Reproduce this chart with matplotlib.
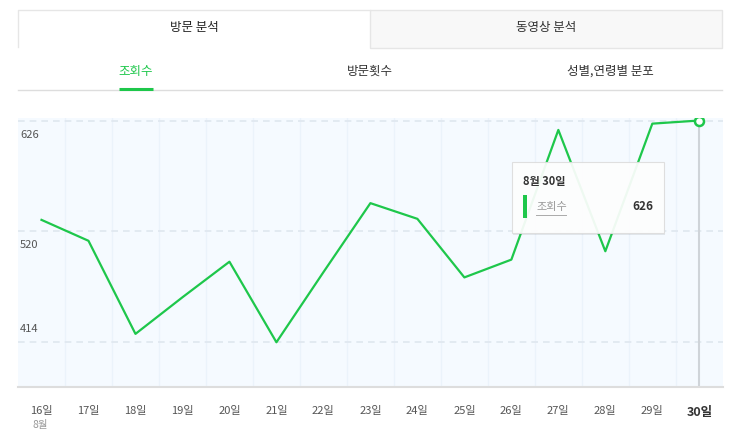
import matplotlib.pyplot as plt
from matplotlib.patches import Rectangle
from matplotlib.transforms import offset_copy

plt.rcParams['font.family'] = ['Noto Sans CJK KR', 'DejaVu Sans']

days = ['16일', '17일', '18일', '19일', '20일', '21일', '22일', '23일',
        '24일', '25일', '26일', '27일', '28일', '29일', '30일']
views = [531, 511, 422, 457, 491, 414, 481, 547, 532, 476, 493, 617, 501, 623, 626]
y_ticks = [414, 520, 626]
tabs = ['방문 분석', '동영상 분석']
sub_tabs = ['조회수', '방문횟수', '성별,연령별 분포']

green = '#1ec74b'
W, H = 743, 434
fig = plt.figure(figsize=(W / 100, H / 100), dpi=100)

# page layer in pixel coords
bg = fig.add_axes([0, 0, 1, 1])
bg.set_xlim(0, W)
bg.set_ylim(H, 0)
bg.axis('off')

# top tabs
bg.add_patch(Rectangle((370, 10), 352, 37.5, facecolor='#f8f8f8', edgecolor='#e6e6e6', lw=1))
bg.plot([18, 18, 370], [47, 10, 10], color='#e6e6e6', lw=1)
bg.text(194, 28, tabs[0], ha='center', va='center', fontsize=9, color='#222222')
bg.text(546, 28, tabs[1], ha='center', va='center', fontsize=9, color='#333333')

# sub tabs
bg.plot([18, 722], [89.5, 89.5], color='#dddddd', lw=1)
bg.plot([119, 153], [89, 89], color=green, lw=2.2, solid_capstyle='butt')
bg.text(136, 71, sub_tabs[0], ha='center', va='center', fontsize=9, color=green)
bg.text(370, 71, sub_tabs[1], ha='center', va='center', fontsize=9, color='#333333')
bg.text(610, 71, sub_tabs[2], ha='center', va='center', fontsize=9, color='#333333')

# chart
ax = fig.add_axes([18 / W, (H - 386.5) / H, 704.8 / W, 268.5 / H])
ax.set_facecolor('#f5faff')
x = list(range(len(days)))
ax.set_xlim(-0.5, len(days) - 0.5)
ax.set_ylim(371.7, 628.4)
for i in range(len(days) - 1):
    ax.axvline(i + 0.5, color='#ebf3fb', lw=1, zorder=1)
for v in y_ticks:
    ax.axhline(v, color='#dfe7ef', lw=1.2, ls=(0, (4, 3)), zorder=1)
ax.plot([x[-1], x[-1]], [371.7, views[-1]], color='#cfd4d9', lw=1.5, zorder=2)
ax.plot(x, views, color=green, lw=1.6, zorder=3)
ax.plot(x[-1], views[-1], 'o', ms=6.5, mfc='white', mec=green, mew=1.8, zorder=4)
for s in ['top', 'left', 'right']:
    ax.spines[s].set_visible(False)
ax.spines['bottom'].set_color('#dddddd')
ax.spines['bottom'].set_linewidth(1.5)
ax.set_yticks([])
ax.set_xticks(x)
ax.set_xticklabels(days, fontsize=8, color='#555555')
ax.tick_params(axis='x', length=0, pad=14)
ax.get_xticklabels()[-1].set_fontweight('bold')
ax.get_xticklabels()[-1].set_color('#333333')
ax.get_xticklabels()[-1].set_fontsize(9)

for v, dy in zip(y_ticks, [13, -14, -14]):
    tr = offset_copy(ax.get_yaxis_transform(), fig=fig, x=0, y=dy, units='dots')
    ax.text(0.003, v, str(v), transform=tr, ha='left', va='center', fontsize=8, color='#555555')

bg.text(40, 425, '8월', ha='center', va='center', fontsize=7.5, color='#999999')

# tooltip
top = fig.add_axes([0, 0, 1, 1], zorder=5)
top.set_xlim(0, W)
top.set_ylim(H, 0)
top.axis('off')
top.patch.set_alpha(0)
top.add_patch(Rectangle((513, 163), 152, 72, facecolor='#000000', alpha=0.08, lw=0))
top.add_patch(Rectangle((512, 162), 152, 71, facecolor='white', edgecolor='#dddddd', lw=0.8, alpha=0.93))
top.text(523, 181, '8월 30일', ha='left', va='center', fontsize=8, fontweight='bold', color='#333333')
top.add_patch(Rectangle((523, 195), 3.5, 23, facecolor=green, lw=0))
top.text(536, 207, sub_tabs[0], ha='left', va='center', fontsize=8, color='#999999')
top.plot([536, 566], [215, 215], color='#aaaaaa', lw=0.7)
top.text(653, 207, str(views[-1]), ha='right', va='center', fontsize=8.5, fontweight='bold', color='#333333')

fig.savefig('out.png', dpi=100)
